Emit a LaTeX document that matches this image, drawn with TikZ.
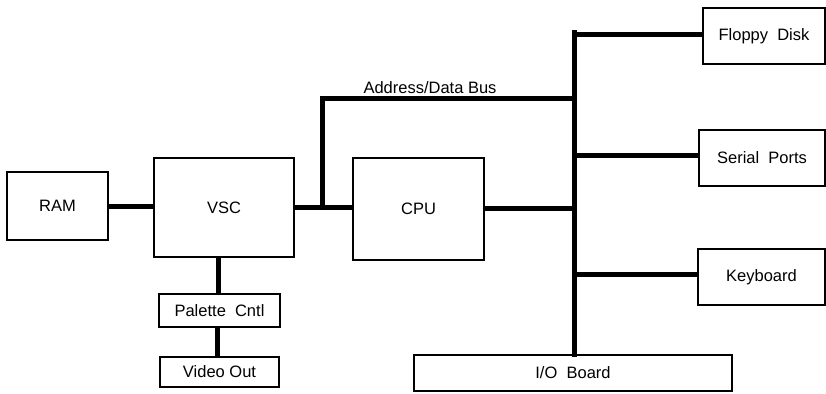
\documentclass[tikz,border=0pt]{standalone}
\usepackage{fontspec}
\setmainfont{Liberation Sans}
\begin{document}
\begin{tikzpicture}[x=1pt,y=-1pt,
  blk/.style={draw=black,line width=1.3pt,minimum width=#1,inner sep=0pt,font=\fontsize{16.5}{19}\selectfont},
  bus/.style={line width=5pt,line cap=rect}]
\useasboundingbox (0,0) rectangle (826,393);
\node[blk=101pt,minimum height=68pt] (ram) at (57.5,206) {RAM};
\node[blk=140pt,minimum height=99pt] (vsc) at (224,207.5) {VSC};
\node[blk=131pt,minimum height=102pt] (cpu) at (418.5,209) {CPU};
\node[blk=121pt,minimum height=33pt] (pal) at (219.5,310.5) {Palette\ \ Cntl};
\node[blk=119pt,minimum height=30pt] (vid) at (219.5,372) {Video Out};
\node[blk=122pt,minimum height=56pt] (floppy) at (764,36) {Floppy\ \ Disk};
\node[blk=126pt,minimum height=56pt] (serial) at (762,158) {Serial\ \ Ports};
\node[blk=127pt,minimum height=56pt] (kbd) at (761.5,277) {Keyboard};
\node[blk=318pt,minimum height=36pt] (io) at (573,373) {I/O\ \ Board};
\node[font=\fontsize{16.5}{19}\selectfont,inner sep=0pt] (lbl) at (430,88) {Address/Data Bus};
\coordinate (j1) at (322,207);
\coordinate (jt) at (322,99);
\coordinate (bt) at (574,33);
\coordinate (bm) at (574,99);
\draw[line width=5pt] (ram.east) -- (ram.east -| vsc.west);
\draw[line width=5pt] (vsc.east |- j1) -- (j1 -| cpu.west);
\draw[bus] (j1) -- (jt) -- (bm);
\draw[line width=5pt] (cpu.east |- 0,208) -- (bt |- 0,208);
\draw[bus] (bt) -- (bt |- io.north);
\draw[line width=5pt] (bt |- 0,35) -- (floppy.west |- 0,35);
\draw[line width=5pt] (bt |- 0,155) -- (serial.west |- 0,155);
\draw[line width=5pt] (bt |- 0,274) -- (kbd.west |- 0,274);
\draw[line width=5pt] (vsc.south -| 218.5,0) -- (pal.north -| 218.5,0);
\draw[line width=5pt] (pal.south -| 217.5,0) -- (vid.north -| 217.5,0);
\end{tikzpicture}
\end{document}
